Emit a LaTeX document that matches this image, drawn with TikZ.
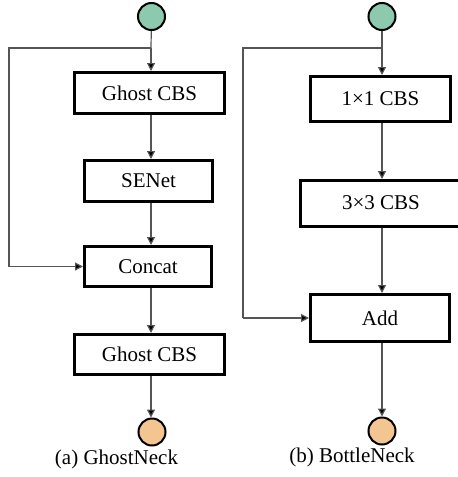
\documentclass[tikz,border=0pt]{standalone}
\usepackage{fontspec}
\setmainfont{Liberation Serif}[Ligatures=TeX]
\usetikzlibrary{arrows.meta}
\definecolor{ingreen}{HTML}{8DC9AE}
\definecolor{outorange}{HTML}{F3C590}
\definecolor{conn}{HTML}{555555}
\begin{document}
\begin{tikzpicture}[x=1pt,y=-1pt,
  box/.style={draw=black,line width=3pt,fill=white,inner sep=0pt,font=\rmfamily\fontsize{21}{24}\selectfont},
  incirc/.style={circle,draw=black,line width=2pt,fill=ingreen,minimum size=27pt,inner sep=0pt},
  outcirc/.style={circle,draw=black,line width=2pt,fill=outorange,minimum size=27pt,inner sep=0pt},
  conline/.style={draw=conn,line width=1.2pt},
  arr/.style={conline,-{Triangle[length=8pt,width=8pt,fill=black]}},
  captext/.style={inner sep=0pt,font=\rmfamily\fontsize{21}{24}\selectfont}]
\useasboundingbox (0,0) rectangle (458,477);
% ---- left: GhostNeck
\node[incirc] (a0) at (151.5,16.5) {};
\node[box,minimum width=150pt,minimum height=41pt] (a1) at (149.5,93) {Ghost CBS};
\node[box,minimum width=128pt,minimum height=41pt] (a2) at (148.5,181) {SENet};
\node[box,minimum width=127pt,minimum height=40pt] (a3) at (148,266.5) {Concat};
\node[box,minimum width=150pt,minimum height=40pt] (a4) at (149.5,354.5) {Ghost CBS};
\node[outcirc] (a5) at (152,432) {};
\coordinate (ab) at (151,48);
\coordinate (al) at (9,48);
\coordinate (ad) at (9,266.5);
\draw[conline] (a0) -- (ab);
\draw[arr] (ab) -- (ab |- a1.north);
\draw[conline] (ab) -- (al) -- (ad);
\draw[arr] (ad) -- (a3.west);
\draw[arr] (a1.south -| ab) -- (a2.north -| ab);
\draw[arr] (a2.south -| ab) -- (a3.north -| ab);
\draw[arr] (a3.south -| ab) -- (a4.north -| ab);
\draw[arr] (a4.south -| ab) -- (a5.north -| ab);
\node[captext] (acap) at (116.5,459) {(a) GhostNeck};
% ---- right: BottleNeck
\node[incirc] (b0) at (382,16.5) {};
\node[box,minimum width=140pt,minimum height=45pt] (b1) at (380.5,99) {1×1 CBS};
\node[box,minimum width=166pt,minimum height=46pt,anchor=west] (b2) at (299,203.5) {};
\node[font=\rmfamily\fontsize{21}{24}\selectfont,inner sep=0pt] (b2t) at (381,203) {3×3 CBS};
\node[box,minimum width=139pt,minimum height=47pt] (b3) at (380,318) {Add};
\node[outcirc] (b4) at (382,431) {};
\coordinate (bb) at (382,48);
\coordinate (bl) at (243,48);
\coordinate (bd) at (243,318);
\draw[conline] (b0) -- (bb);
\draw[arr] (bb) -- (bb |- b1.north);
\draw[conline] (bb) -- (bl) -- (bd);
\draw[arr] (bd) -- (b3.west);
\draw[arr] (b1.south -| bb) -- (b2.north -| bb);
\draw[arr] (b2.south -| bb) -- (b3.north -| bb);
\draw[arr] (b3.south -| bb) -- (b4.north -| bb);
\node[captext] (bcap) at (352,457) {(b) BottleNeck};
\end{tikzpicture}
\end{document}
